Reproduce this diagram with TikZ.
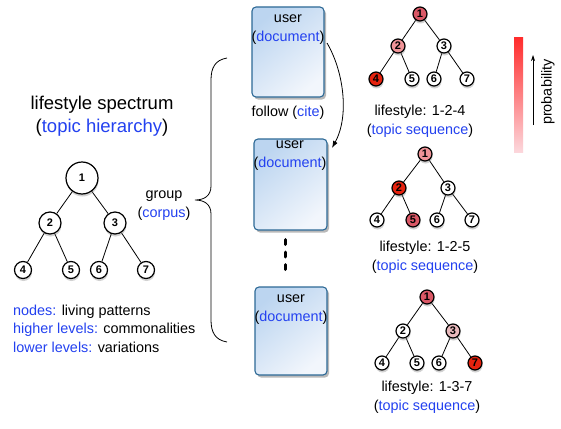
\documentclass[tikz,border=0pt]{standalone}
\usepackage{fontspec}
\setmainfont{Liberation Sans}
\usetikzlibrary{shadows,arrows.meta,backgrounds}
\definecolor{txtblue}{RGB}{35,65,240}
\definecolor{boxedge}{RGB}{45,105,150}
\definecolor{boxtop}{RGB}{188,213,240}
\definecolor{boxbot}{RGB}{242,246,252}
\definecolor{pRed}{RGB}{230,35,15}
\definecolor{pMed}{RGB}{218,88,102}
\definecolor{pPink}{RGB}{240,148,152}
\definecolor{pLight}{RGB}{232,185,188}
\definecolor{barTop}{RGB}{255,45,45}
\definecolor{barBot}{RGB}{252,215,220}
\begin{document}
\begin{tikzpicture}[x=1pt,y=-1pt,
  txt/.style={font=\fontsize{14.4}{19}\selectfont, align=center, inner sep=0pt},
  docbox/.style={draw=boxedge, line width=1.1pt, rounded corners=4pt,
    top color=boxtop, bottom color=boxbot, shading angle=40,
    drop shadow={shadow xshift=2pt, shadow yshift=-2.5pt, opacity=0.55}},
  tnode/.style={circle, draw, line width=1.2pt, fill=white, inner sep=0pt,
    minimum size=#1, font=\fontsize{11}{11}\selectfont\bfseries,
    drop shadow={shadow xshift=0.5pt, shadow yshift=-2.5pt, opacity=0.35}},
  sn/.style={tnode=14pt},
  edge/.style={line width=0.8pt}
]
\useasboundingbox (0,0) rectangle (561,428);

% title
\node[font=\fontsize{18.5}{23}\selectfont, align=center, inner sep=0pt] (title) at (102,116)
  {lifestyle spectrum\\(\textcolor{txtblue}{topic hierarchy})};

% left tree
\node[tnode=32pt] (L1) at (82,178) {1};
\node[tnode=22pt] (L2) at (50,223) {2};
\node[tnode=22pt] (L3) at (115,223) {3};
\node[tnode=17pt] (L4) at (23,270) {4};
\node[tnode=17pt] (L5) at (71,270) {5};
\node[tnode=17pt] (L6) at (99,270) {6};
\node[tnode=17pt] (L7) at (146,270) {7};

\node[txt, anchor=west] (n1) at (13,312) {\textcolor{txtblue}{nodes:} living patterns};
\node[txt, anchor=west] (n2) at (13,329.5) {\textcolor{txtblue}{higher levels:} commonalities};
\node[txt, anchor=west] (n3) at (13,347) {\textcolor{txtblue}{lower levels:} variations};

% group
\node[txt] (grp) at (164,206) {group\\(\textcolor{txtblue}{corpus})};
\coordinate (bt) at (227,58);
\coordinate (bm) at (195,200);
\coordinate (bb) at (227,342);
\draw[line width=0.8pt] (bt) .. controls (215,60) and (211,68) .. (211,80) -- (211,186)
  .. controls (211,196) and (204,200) .. (bm)
  .. controls (204,200) and (211,204) .. (211,214) -- (211,320)
  .. controls (211,332) and (215,340) .. (bb);

% boxes
\node[docbox, minimum width=72pt, minimum height=90pt] (b1) at (288,52) {};
\node[docbox, minimum width=73pt, minimum height=91pt] (b2) at (290.5,184.5) {};
\node[docbox, minimum width=72pt, minimum height=88pt] (b3) at (291,331) {};
\node[txt] (u1) at (288,29.5) {user\\(\textcolor{txtblue}{document})};
\node[txt] (u2) at (290,155.5) {user\\(\textcolor{txtblue}{document})};
\node[txt] (u3) at (291,309.5) {user\\(\textcolor{txtblue}{document})};
\node[txt] (fc) at (288,113) {follow (\textcolor{txtblue}{cite})};
\coordinate (fa) at (327,43);
\coordinate (fb) at (332,148);
\draw[line width=0.8pt, -{Latex[length=7pt,width=5pt]}] (fa) .. controls (343,70) and (350,115) .. (fb);
\foreach \yy in {242,254.5,267}
  \draw[line width=3pt, line cap=round] (285,\yy-2.5) -- (285,\yy+2.5);

% tree A (1-2-4)
\node[sn, fill=pMed] (A1) at (420,14) {1};
\node[sn, fill=pPink] (A2) at (398,46) {2};
\node[sn] (A3) at (444,46) {3};
\node[sn, fill=pRed] (A4) at (376,79) {4};
\node[sn] (A5) at (412,79) {5};
\node[sn] (A6) at (434,79) {6};
\node[sn] (A7) at (467,79) {7};
\node[txt] (la) at (420,121) {lifestyle: 1-2-4\\(\textcolor{txtblue}{topic sequence})};

% tree B (1-2-5)
\node[sn, fill=pPink] (B1) at (425,154) {1};
\node[sn, fill=pRed] (B2) at (399,188) {2};
\node[sn] (B3) at (448,188) {3};
\node[sn] (B4) at (377,220) {4};
\node[sn, fill=pMed] (B5) at (413,220) {5};
\node[sn] (B6) at (437,220) {6};
\node[sn] (B7) at (472,220) {7};
\node[txt] (lb) at (425,257) {lifestyle: 1-2-5\\(\textcolor{txtblue}{topic sequence})};

% tree C (1-3-7)
\node[sn, fill=pMed] (C1) at (427,297) {1};
\node[sn] (C2) at (403,331) {2};
\node[sn, fill=pLight] (C3) at (453,331) {3};
\node[sn] (C4) at (382,363) {4};
\node[sn] (C5) at (417,363) {5};
\node[sn] (C6) at (439,363) {6};
\node[sn, fill=pRed] (C7) at (475,363) {7};
\node[txt] (lc) at (427,397.5) {lifestyle: 1-3-7\\(\textcolor{txtblue}{topic sequence})};

% tree edges behind nodes
\begin{scope}[on background layer]
\fill[white] (0,0) rectangle (561,428);
\foreach \t in {L,A,B,C}{
  \draw[edge] (\t1) -- (\t2); \draw[edge] (\t1) -- (\t3);
  \draw[edge] (\t2) -- (\t4); \draw[edge] (\t2) -- (\t5);
  \draw[edge] (\t3) -- (\t6); \draw[edge] (\t3) -- (\t7);
}
\end{scope}

% probability bar
\shade[top color=barTop, bottom color=barBot] (514,38) rectangle (523,152);
\coordinate (pa) at (533,125);
\coordinate (pb) at (533,55);
\draw[line width=0.7pt, -{Stealth[length=6pt,width=4pt]}] (pa) -- (pb);
\node[txt, rotate=90] (prob) at (548,92) {probability};
\end{tikzpicture}
\end{document}
